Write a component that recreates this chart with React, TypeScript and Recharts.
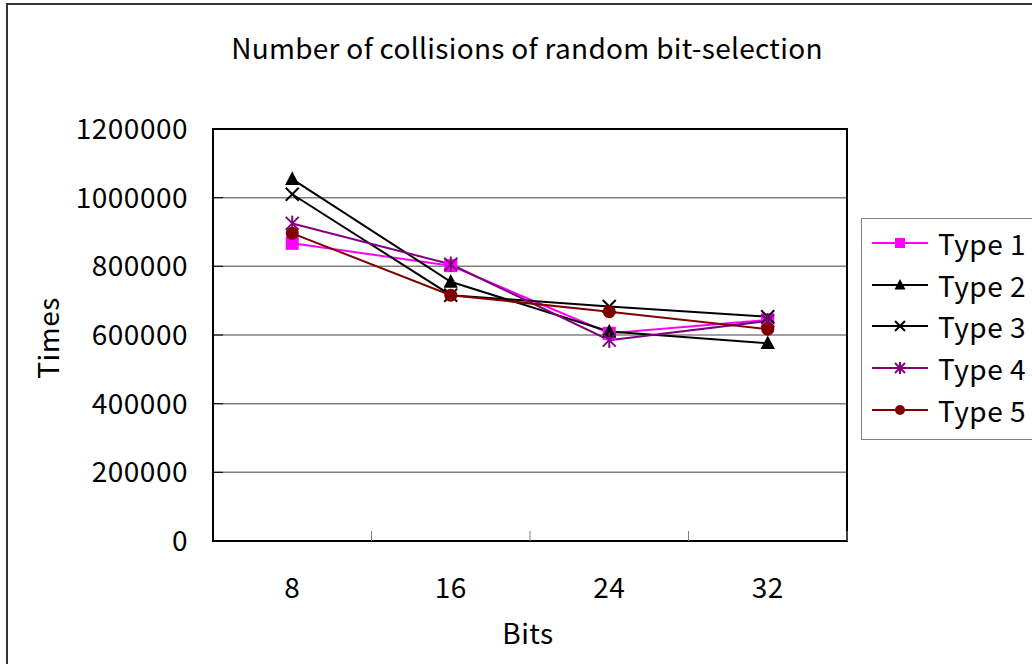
import React from 'react';
import { LineChart, Line, XAxis, YAxis, CartesianGrid, ReferenceArea } from 'recharts';

const bits = ['8', '16', '24', '32'];
const type1 = [867000, 802000, 605000, 644000];
const type2 = [1054000, 755000, 610000, 576000];
const type3 = [1010000, 716000, 683000, 653000];
const type4 = [925000, 806000, 585000, 641000];
const type5 = [896000, 716000, 668000, 617000];
const yTicks = [0, 200000, 400000, 600000, 800000, 1000000, 1200000];

const FONT = "'Noto Sans CJK JP', 'Noto Sans', sans-serif";

const series = [
  { key: 'type1', name: 'Type 1', color: '#ff00ff', shape: 'square', values: type1 },
  { key: 'type2', name: 'Type 2', color: '#000000', shape: 'triangle', values: type2 },
  { key: 'type3', name: 'Type 3', color: '#000000', shape: 'cross', values: type3 },
  { key: 'type4', name: 'Type 4', color: '#800080', shape: 'star', values: type4 },
  { key: 'type5', name: 'Type 5', color: '#800000', shape: 'circle', values: type5 },
];

const data = bits.map((b, i) => {
  const row: Record<string, string | number> = { bits: b };
  series.forEach(s => { row[s.key] = s.values[i]; });
  return row;
});

const Marker = ({ shape, color, cx, cy, s }: { shape: string; color: string; cx: number; cy: number; s: number }) => {
  switch (shape) {
    case 'square':
      return <rect x={cx - s} y={cy - s} width={s * 2} height={s * 2} fill={color} />;
    case 'triangle':
      return <polygon points={`${cx},${cy - s * 1.2} ${cx - s * 1.1},${cy + s * 0.9} ${cx + s * 1.1},${cy + s * 0.9}`} fill={color} />;
    case 'cross':
      return (
        <g stroke={color} strokeWidth={2}>
          <line x1={cx - s} y1={cy - s} x2={cx + s} y2={cy + s} />
          <line x1={cx - s} y1={cy + s} x2={cx + s} y2={cy - s} />
        </g>
      );
    case 'star':
      return (
        <g stroke={color} strokeWidth={2}>
          <line x1={cx - s} y1={cy - s} x2={cx + s} y2={cy + s} />
          <line x1={cx - s} y1={cy + s} x2={cx + s} y2={cy - s} />
          <line x1={cx} y1={cy - s * 1.2} x2={cx} y2={cy + s * 1.2} />
        </g>
      );
    default:
      return <circle cx={cx} cy={cy} r={s} fill={color} />;
  }
};

const makeDot = (shape: string, color: string) => (props: any) => {
  const { cx, cy, index } = props;
  return <Marker key={`${shape}-${index}`} shape={shape} color={color} cx={cx} cy={cy} s={6.5} />;
};

const XTick = (props: any) => {
  const { x, y, payload } = props;
  const half = payload.offset ?? 0;
  return (
    <g>
      <line x1={x + half} y1={y} x2={x + half} y2={y - 10} stroke="#808080" />
      <text x={x} y={y + 57} textAnchor="middle" fontSize={28} letterSpacing={0.5} fontFamily={FONT} fill="#000">
        {payload.value}
      </text>
    </g>
  );
};

const LegendBox = () => (
  <div
    style={{
      position: 'absolute',
      left: 861,
      top: 218,
      border: '1px solid #808080',
      background: '#fff',
      width: 200,
      height: 222,
      boxSizing: 'border-box',
      paddingTop: 3,
      fontFamily: FONT,
      fontSize: 28,
    }}
  >
    {series.map(s => (
      <div key={s.key} style={{ display: 'flex', alignItems: 'center', height: 41.7 }}>
        <svg width={76} height={30} style={{ flexShrink: 0 }}>
          <line x1={10} y1={15} x2={66} y2={15} stroke={s.color} strokeWidth={2} />
          <Marker shape={s.shape} color={s.color} cx={38} cy={15} s={5} />
        </svg>
        <span style={{ color: '#000', lineHeight: 1, letterSpacing: 0.5 }}>{s.name}</span>
      </div>
    ))}
  </div>
);

export default function App() {
  return (
    <div
      style={{
        position: 'absolute',
        left: 0,
        top: 0,
        width: 1032,
        height: 664,
        overflow: 'hidden',
        background: '#fff',
        fontFamily: FONT,
      }}
    >
      <div
        style={{
          position: 'absolute',
          left: 6,
          top: 3,
          width: 1100,
          height: 700,
          border: '2px solid #333',
        }}
      />
      <div
        style={{
          position: 'absolute',
          left: 0,
          width: 1032,
          top: 28,
          textAlign: 'center',
          fontSize: 28,
          letterSpacing: 0.3,
          lineHeight: '38px',
          paddingLeft: 22,
          boxSizing: 'border-box',
        }}
      >
        Number of collisions of random bit-selection
      </div>
      <div
        style={{
          position: 'absolute',
          left: 47,
          top: 338,
          fontSize: 28,
          letterSpacing: 0.5,
          transform: 'translate(-50%, -50%) rotate(-90deg)',
          whiteSpace: 'nowrap',
        }}
      >
        Times
      </div>
      <div
        style={{
          position: 'absolute',
          left: 528,
          top: 632,
          fontSize: 28,
          letterSpacing: 0.5,
          transform: 'translate(-50%, -50%)',
        }}
      >
        Bits
      </div>
      <div style={{ position: 'absolute', left: 0, top: 0 }}>
        <LineChart width={1032} height={664} data={data} margin={{ top: 129, right: 185, bottom: 63, left: 63 }}>
          <CartesianGrid vertical={false} stroke="#808080" strokeWidth={1.5} />
          <XAxis
            dataKey="bits"
            scale="band"
            tickLine={false}
            tickSize={0}
            tickMargin={0}
            axisLine={{ stroke: '#000', strokeWidth: 2 }}
            tick={<XTick />}
            height={60}
            interval={0}
          />
          <YAxis
            domain={[0, 1200000]}
            ticks={yTicks}
            interval={0}
            width={150}
            tickSize={-10}
            tickMargin={35}
            tickLine={{ stroke: '#000' }}
            axisLine={{ stroke: '#000', strokeWidth: 2 }}
            tick={{ fontSize: 28, fontFamily: FONT, fill: '#000', letterSpacing: 0.5 }}
          />
          <ReferenceArea y1={0} y2={1200000} fill="none" stroke="#000" strokeWidth={2} ifOverflow="visible" />
          {series.map(s => (
            <Line
              key={s.key}
              dataKey={s.key}
              name={s.name}
              stroke={s.color}
              strokeWidth={2}
              dot={makeDot(s.shape, s.color)}
              activeDot={false}
              isAnimationActive={false}
            />
          ))}
        </LineChart>
      </div>
      <LegendBox />
    </div>
  );
}
